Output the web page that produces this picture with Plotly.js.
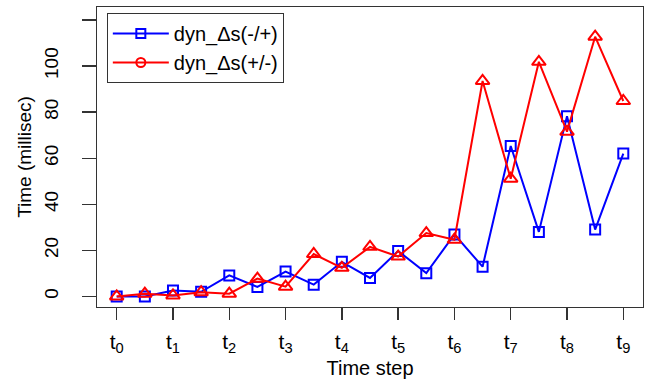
<!DOCTYPE html>
<html>
<head>
<meta charset="utf-8">
<script src="https://cdn.plot.ly/plotly-3.0.1.min.js"></script>
<style>html,body{margin:0;padding:0;background:#fff;}#chart{width:652px;height:381px;}</style>
</head>
<body>
<div id="chart"></div>
<script>
// Data
var timeSteps = [0, 0.5, 1, 1.5, 2, 2.5, 3, 3.5, 4, 4.5, 5, 5.5, 6, 6.5, 7, 7.5, 8, 8.5, 9];
var dynMinusPlus = [0, 0, 2.6, 2, 9.1, 4.1, 10.8, 5.1, 15, 8, 19.7, 10.1, 26.9, 12.9, 65.3, 28, 78.2, 29, 62];
var dynPlusMinus = [0, 1.2, 0.4, 1.8, 1.2, 7.7, 4.2, 18.4, 12.4, 21.5, 17.3, 27.5, 24.6, 93.5, 51.1, 101.8, 71.5, 112.7, 84.8];
var seriesNames = ['dyn_\u0394s(-/+)', 'dyn_\u0394s(+/-)'];
var xTickVals = [0, 1, 2, 3, 4, 5, 6, 7, 8, 9];
var xTickText = ['t<sub>0</sub>', 't<sub>1</sub>', 't<sub>2</sub>', 't<sub>3</sub>', 't<sub>4</sub>', 't<sub>5</sub>', 't<sub>6</sub>', 't<sub>7</sub>', 't<sub>8</sub>', 't<sub>9</sub>'];
var yTickVals = [0, 20, 40, 60, 80, 100, 120];
var yTickText = ['0', '20', '40', '60', '80', '100', ''];

var FONT = 'Liberation Sans, Arial, Helvetica, sans-serif';

var traces = [
  {
    x: timeSteps, y: dynMinusPlus, mode: 'lines+markers', showlegend: false,
    line: {color: '#0000FF', width: 2},
    marker: {symbol: 'square-open', size: 10, color: '#0000FF', line: {width: 2, color: '#0000FF'}}
  },
  {
    x: timeSteps, y: dynPlusMinus, mode: 'lines+markers', showlegend: false,
    line: {color: '#FF0000', width: 2},
    marker: {symbol: 'triangle-up-open', size: 12, color: '#FF0000', line: {width: 2, color: '#FF0000'}}
  },
  {
    x: [null], y: [null], mode: 'lines+markers', name: seriesNames[0],
    line: {color: '#0000FF', width: 2},
    marker: {symbol: 'square-open', size: 9, color: '#0000FF', line: {width: 2, color: '#0000FF'}}
  },
  {
    x: [null], y: [null], mode: 'lines+markers', name: seriesNames[1],
    line: {color: '#FF0000', width: 2},
    marker: {symbol: 'circle-open', size: 9, color: '#FF0000', line: {width: 2, color: '#FF0000'}}
  }
];

var layout = {
  width: 652, height: 381,
  margin: {l: 97, r: 9, t: 7, b: 74, pad: 0},
  paper_bgcolor: '#fff', plot_bgcolor: '#fff',
  font: {family: FONT, color: '#000'},
  showlegend: true,
  legend: {
    x: 0.018, y: 0.98, xanchor: 'left', yanchor: 'top',
    bordercolor: '#333', borderwidth: 1, bgcolor: '#fff',
    font: {family: FONT, size: 20, color: '#000'},
    itemwidth: 56,
    tracegroupgap: 0
  },
  xaxis: {
    range: [-0.35, 9.35], tickmode: 'array', tickvals: xTickVals, ticktext: xTickText,
    showgrid: false, zeroline: false,
    showline: true, mirror: true, linecolor: '#333', linewidth: 1.3,
    ticks: 'outside', ticklen: 12, tickwidth: 1.3, tickcolor: '#333',
    ticklabelstandoff: 3,
    tickfont: {family: FONT, size: 21, color: '#000'},
    title: {text: 'Time step', font: {family: FONT, size: 20, color: '#000'}, standoff: 6}
  },
  yaxis: {
    range: [-4.6, 125.6], tickmode: 'array', tickvals: yTickVals, ticktext: yTickText,
    showgrid: false, zeroline: false,
    showline: true, mirror: true, linecolor: '#333', linewidth: 1.3,
    ticks: 'outside', ticklen: 14, tickwidth: 1.3, tickcolor: '#333',
    tickangle: -90, ticklabelstandoff: 16,
    tickfont: {family: FONT, size: 19, color: '#000'},
    title: {text: 'Time (millisec)', font: {family: FONT, size: 19, color: '#000'}, standoff: 4}
  }
};

Plotly.newPlot('chart', traces, layout, {staticPlot: true, displayModeBar: false});
</script>
</body>
</html>
